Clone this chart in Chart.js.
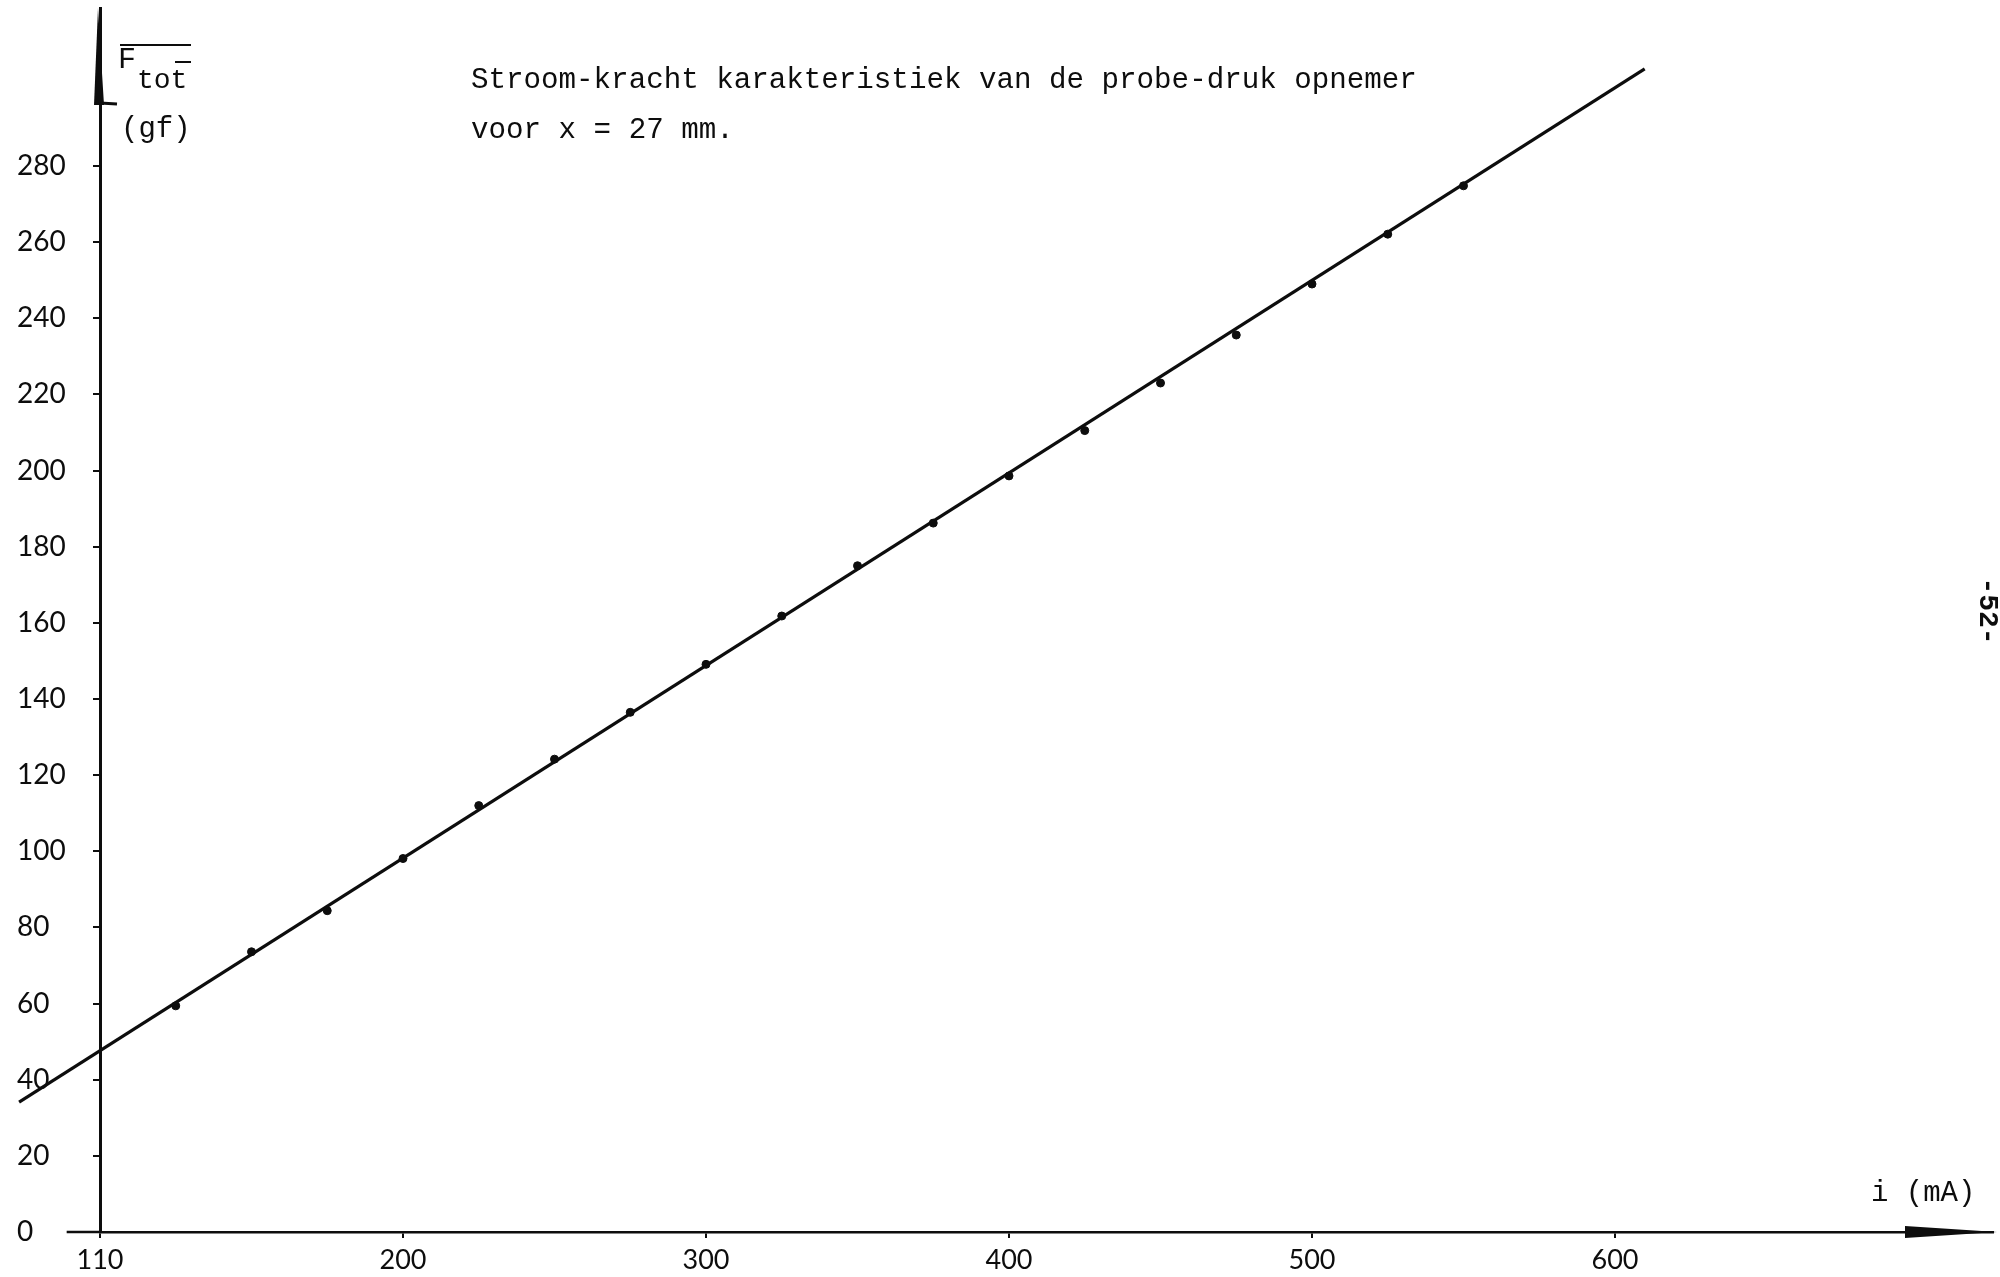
<!DOCTYPE html>
<html>
<head>
<meta charset="utf-8">
<script src="https://cdn.jsdelivr.net/npm/chart.js@4.4.1/dist/chart.umd.min.js"></script>
<style>
  html, body { margin: 0; padding: 0; background: #ffffff; }
  #wrap { position: relative; width: 2000px; height: 1277px; overflow: hidden; }
  canvas { display: block; }
</style>
</head>
<body>
<div id="wrap"><canvas id="chart" width="2000" height="1277"></canvas></div>
<script>
// Measured points: coil current (mA) against total force (gf)
const currentMA = [125, 150, 175, 200, 225, 250, 275, 300, 325, 350, 375, 400, 425, 450, 475, 500, 525, 550];
const forceGf   = [59.4, 73.6, 84.4, 98.1, 112.0, 124.2, 136.5, 149.1, 161.8, 175.0, 186.2, 198.6, 210.5, 223.0, 235.6, 249.0, 262.1, 274.8];

// Hand-drawn straight line through the points (end points)
const fitCurrent = [73.3, 609.8];
const fitForce   = [34.1, 305.5];

// Axis ticks
const xTickValues = [100, 200, 300, 400, 500, 600];
const xTickLabels = ['110', '200', '300', '400', '500', '600'];
const yTickValues = [0, 20, 40, 60, 80, 100, 120, 140, 160, 180, 200, 220, 240, 260, 280];

// Text
const titleLines = ['Stroom-kracht karakteristiek van de probe-druk opnemer', 'voor x = 27 mm.'];
const xAxisTitle = 'i (mA)';
const yAxisSymbol = 'F';
const yAxisSubscript = 'tot';
const yAxisUnit = '(gf)';
const pageNumber = '-52-';

const INK = '#0d0d0d';
const TYPE_FONT = '"Liberation Mono", "DejaVu Sans Mono", monospace';
const LETTER_FONT = 'Lato, "Open Sans", sans-serif';

// Arrow heads, axis stub and typed annotations
const decorations = {
  id: 'decorations',
  afterDraw(chart) {
    const { ctx, chartArea, scales } = chart;
    const xs = scales.x, ys = scales.y;
    const axisX = xs.getPixelForValue(100);
    const axisY = ys.getPixelForValue(0);
    ctx.save();
    ctx.fillStyle = INK;
    ctx.strokeStyle = INK;

    // x axis continues a little to the left of the origin
    ctx.lineWidth = 2.5;
    ctx.beginPath();
    ctx.moveTo(xs.getPixelForValue(89), axisY);
    ctx.lineTo(axisX, axisY);
    ctx.stroke();

    // arrow head on top of the y axis
    const top = chartArea.top;
    ctx.beginPath();
    ctx.moveTo(axisX - 2, top);
    ctx.lineTo(axisX - 6, top + 97);
    ctx.lineTo(axisX + 4, top + 97);
    ctx.closePath();
    ctx.fill();
    ctx.lineWidth = 3;
    ctx.beginPath();
    ctx.moveTo(axisX, top + 95);
    ctx.lineTo(axisX + 17, top + 96);
    ctx.stroke();

    // arrow head at the end of the x axis
    const right = chartArea.right;
    ctx.beginPath();
    ctx.moveTo(right - 88, axisY - 6);
    ctx.lineTo(right + 4, axisY);
    ctx.lineTo(right - 88, axisY + 6);
    ctx.closePath();
    ctx.fill();

    // typed title
    ctx.font = '29.2px ' + TYPE_FONT;
    ctx.textAlign = 'left';
    ctx.textBaseline = 'alphabetic';
    ctx.fillText(titleLines[0], 471, 88);
    ctx.fillText(titleLines[1], 471, 138);

    // y axis quantity with over-bars
    ctx.font = '30px ' + TYPE_FONT;
    ctx.fillText(yAxisSymbol, 118, 68);
    ctx.font = '28px ' + TYPE_FONT;
    ctx.fillText(yAxisSubscript, 137, 88);
    ctx.lineWidth = 2;
    ctx.beginPath();
    ctx.moveTo(120, 45); ctx.lineTo(191, 45);
    ctx.moveTo(175, 62); ctx.lineTo(191, 62);
    ctx.stroke();
    ctx.font = '29px ' + TYPE_FONT;
    ctx.fillText(yAxisUnit, 121, 137);

    // x axis quantity
    ctx.font = '29px ' + TYPE_FONT;
    ctx.fillText(xAxisTitle, 1871, 1201);

    // page number along the right edge
    ctx.translate(1987, 611);
    ctx.rotate(Math.PI / 2);
    ctx.font = 'bold 28px ' + TYPE_FONT;
    ctx.textAlign = 'center';
    ctx.textBaseline = 'middle';
    ctx.fillText(pageNumber, 0, 0);
    ctx.restore();
  }
};

new Chart(document.getElementById('chart'), {
  type: 'scatter',
  data: {
    datasets: [
      {
        label: 'metingen',
        data: currentMA.map((c, i) => ({ x: c, y: forceGf[i] })),
        pointRadius: 4,
        pointBackgroundColor: INK,
        pointBorderColor: INK,
        pointBorderWidth: 1,
        showLine: false
      },
      {
        label: 'rechte',
        data: fitCurrent.map((c, i) => ({ x: c, y: fitForce[i] })),
        showLine: true,
        borderColor: INK,
        borderWidth: 3.2,
        pointRadius: 0,
        clip: false
      }
    ]
  },
  options: {
    responsive: false,
    animation: false,
    devicePixelRatio: 1,
    layout: { padding: { left: 17, top: 8, right: 7, bottom: 0 } },
    plugins: {
      legend: { display: false },
      tooltip: { enabled: false },
      title: { display: false }
    },
    scales: {
      x: {
        type: 'linear',
        min: 100,
        max: 724.75,
        afterBuildTicks: (s) => { s.ticks = xTickValues.map(v => ({ value: v })); },
        afterFit: (s) => {
          s.height = 45;
          s.paddingLeft = 0; s.paddingRight = 0;
        },
        ticks: {
          autoSkip: false,
          maxRotation: 0,
          padding: 6,
          color: INK,
          font: { family: LETTER_FONT, size: 27 },
          callback: (v) => xTickLabels[xTickValues.indexOf(v)]
        },
        grid: { drawOnChartArea: false, drawTicks: true, tickLength: 6, color: INK, lineWidth: 2 },
        border: { display: true, color: INK, width: 2.5 }
      },
      y: {
        type: 'linear',
        min: 0,
        max: 321.5,
        afterBuildTicks: (s) => { s.ticks = yTickValues.map(v => ({ value: v })); },
        afterFit: (s) => {
          s.width = 83;
          s.paddingTop = 0; s.paddingBottom = 0;
        },
        ticks: {
          autoSkip: false,
          crossAlign: 'far',
          color: INK,
          font: { family: LETTER_FONT, size: 28 }
        },
        grid: { drawOnChartArea: false, drawTicks: true, tickLength: 7, color: INK, lineWidth: 2 },
        border: { display: true, color: INK, width: 3 }
      }
    }
  },
  plugins: [decorations]
});
</script>
</body>
</html>
